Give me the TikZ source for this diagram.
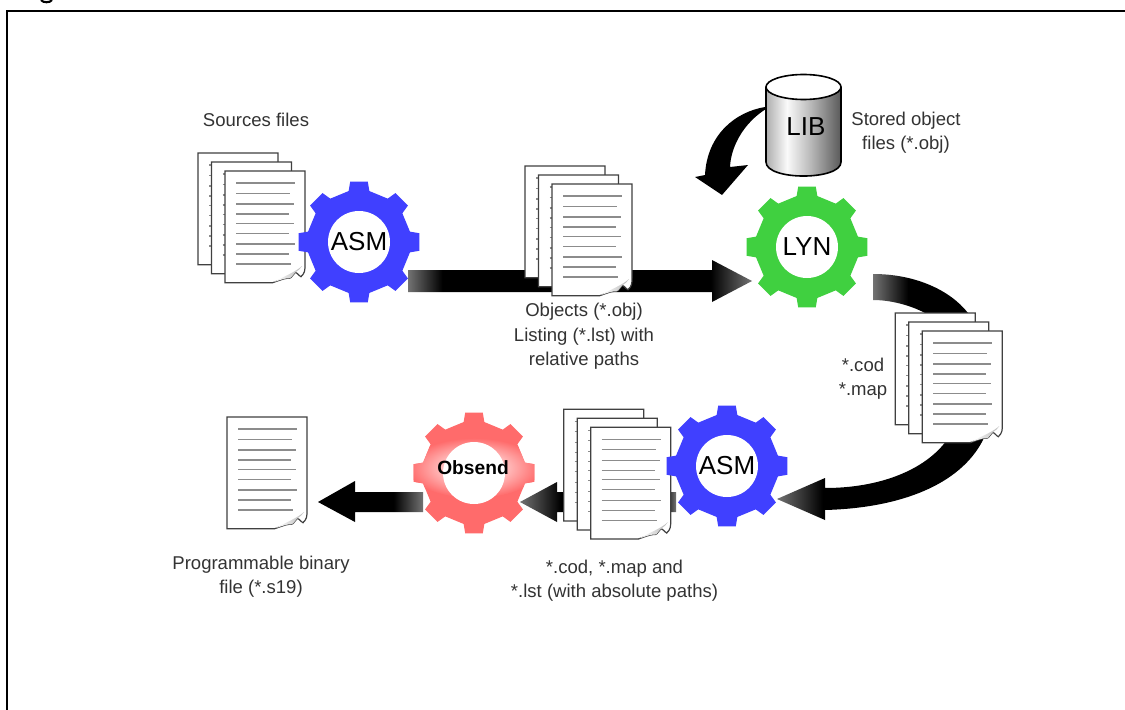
\documentclass[tikz,border=0pt]{standalone}
\usepackage{fontspec}
\setmainfont{Liberation Sans}
\usetikzlibrary{calc}
\definecolor{gearblue}{RGB}{64,64,255}
\definecolor{geargreen}{RGB}{64,208,64}
\definecolor{gearred}{RGB}{255,107,107}
\definecolor{glowred}{RGB}{255,190,190}
\definecolor{tipgrey}{gray}{0.45}
\definecolor{labelgrey}{gray}{0.2}
\definecolor{cylA}{gray}{0.68}
\definecolor{cylB}{gray}{0.98}
\definecolor{cylC}{gray}{0.72}
\definecolor{cylD}{gray}{0.35}
% the path's bounding box maps onto 25bp..75bp of a shading
\pgfdeclarehorizontalshading{arrowboth}{100bp}{color(0bp)=(tipgrey); color(25bp)=(tipgrey); color(30bp)=(black); color(69bp)=(black); color(75bp)=(tipgrey); color(100bp)=(tipgrey)}
\pgfdeclarehorizontalshading{arrowtailright}{100bp}{color(0bp)=(black); color(61bp)=(black); color(75bp)=(tipgrey); color(100bp)=(tipgrey)}
\pgfdeclarehorizontalshading{arrowmid}{100bp}{color(0bp)=(tipgrey); color(25bp)=(tipgrey); color(38bp)=(black); color(71bp)=(black); color(75bp)=(tipgrey); color(100bp)=(tipgrey)}
\pgfdeclarehorizontalshading{arrowtipleft}{100bp}{color(0bp)=(tipgrey); color(25bp)=(tipgrey); color(36bp)=(black); color(100bp)=(black)}
\pgfdeclarehorizontalshading{arrowtailleft}{100bp}{color(0bp)=(tipgrey); color(25bp)=(tipgrey); color(40bp)=(black); color(100bp)=(black)}
\pgfdeclarehorizontalshading{cylbody}{100bp}{color(0bp)=(cylA); color(25bp)=(cylA); color(39bp)=(cylB); color(55bp)=(cylC); color(75bp)=(cylD); color(100bp)=(cylD)}
\pgfdeclareradialshading{obsglow}{\pgfpointorigin}{color(0bp)=(glowred); color(12bp)=(glowred); color(25bp)=(gearred); color(50bp)=(gearred)}
\newcommand{\gearoutline}{(-11.5:52) \foreach \a in {0,45,...,315}{ -- (\a-11.5:52) -- (\a-8.3:61) -- (\a+8.3:61) -- (\a+11.5:52)} -- cycle}
% name, x, y, colour, text style, text
\newcommand{\cogwheel}[6]{%
  \begin{scope}[shift={(#2,#3)}]
    \fill[#4] \gearoutline;
    \fill[white] (0,0) circle[radius=31];
  \end{scope}
  \node[#5] (#1) at (#2,#3) {#6};}
\newcommand{\docpage}[2]{%
  \begin{scope}[shift={(#1,#2)}]
    \filldraw[fill=white,draw=black!75,line width=.9pt] (0,0) -- (80,0) -- (80,94)
      .. controls (80,99) and (80,102) .. (76,105.7)
      .. controls (74,105) and (72,101) .. (70,101.7)
      .. controls (68,103) and (67,107) .. (64.3,107.3)
      .. controls (61,107) and (58,108) .. (47.7,111.7) -- (0,111.7) -- cycle;
    \shade[left color=white,right color=black!28] (49,111) .. controls (58,108) and (61,107) .. (64.3,107.3)
      .. controls (67,107) and (68,103) .. (70,101.7) .. controls (73,99) and (76,98) .. (77,95)
      .. controls (72,100) and (60,105) .. cycle;
    \foreach \ly/\lx in {12/70,22.5/65,33/69,43/64,52.5/69,62.5/64,73/70,83/64,93/66}
      \draw[black!45,line width=.9pt] (11,\ly) -- (\lx,\ly);
  \end{scope}}
\newcommand{\docstack}[2]{%
  \docpage{#1}{#2}
  \docpage{#1+13.5}{#2+9}
  \docpage{#1+27}{#2+18}}
\tikzset{
  cap label/.style={text=labelgrey,font=\fontsize{13.9pt}{18.3pt}\selectfont,align=center,inner sep=0pt},
  gear label/.style={text=black,font=\fontsize{19.5pt}{22pt}\selectfont,inner sep=0pt},
  gear bold label/.style={text=black,font=\fontsize{14.4pt}{18pt}\selectfont\bfseries,inner sep=0pt},
}
\begin{document}
\begin{tikzpicture}[x=0.75pt,y=-0.75pt]
\useasboundingbox (0,0) rectangle (1125,710);
\fill[white] (0,0) rectangle (1125,710);
% frame and clipped title remnant
\draw[black,line width=1.5pt] (7,710) -- (7,11) -- (1125,11);
\draw[black,line width=1.6pt] (41,0) .. controls (43,3) and (50,3) .. (52,0);

% anchor points of the block arrows
\coordinate (objtail) at (408,281);
\coordinate (objtip) at (752,281);
\coordinate (codtail) at (873,287);
\coordinate (codtip) at (777,499);
\coordinate (lsttail) at (676,502);
\coordinate (lsttip) at (520,502);
\coordinate (bintail) at (423,502);
\coordinate (bintip) at (318,502);
\coordinate (libtail) at (765,107);
\coordinate (libtip) at (722,195);

% arrows behind the documents
\shade[shading=arrowboth] ($(objtail)+(0,-11)$) -- ($(objtip)+(-40,-11)$) -- ($(objtip)+(-40,-21)$) -- (objtip)
  -- ($(objtip)+(-40,21)$) -- ($(objtip)+(-40,11)$) -- ($(objtail)+(0,11)$) -- cycle;
\shade[shading=arrowtailleft] ($(codtail)+(0,-13)$) .. controls (915,274) and (950,290) .. (968,313)
  -- (990,350) -- (930,350) -- (925,313) .. controls (910,305) and (890,300) .. ($(codtail)+(0,13)$) -- cycle;
\shade[shading=arrowtipleft] (985,425) -- (983,440) .. controls (960,485) and (900,508) .. (825,510)
  -- (825,520) -- (codtip) -- (825,478) -- (825,488) .. controls (880,488) and (925,470) .. (947,440) -- (960,425) -- cycle;
\shade[shading=arrowmid] ($(lsttail)+(0,-10)$) -- ($(lsttip)+(37,-10)$) -- ($(lsttip)+(37,-20)$) -- (lsttip)
  -- ($(lsttip)+(37,20)$) -- ($(lsttip)+(37,10)$) -- ($(lsttail)+(0,10)$) -- cycle;
\shade[shading=arrowtailright] ($(bintail)+(0,-10)$) -- ($(bintip)+(37,-10)$) -- ($(bintip)+(37,-21)$) -- (bintip)
  -- ($(bintip)+(37,20)$) -- ($(bintip)+(37,10)$) -- ($(bintail)+(0,10)$) -- cycle;
\fill[black] (libtail) .. controls (735,112) and (707,135) .. (705,175) -- (695,177) -- (libtip) -- (748,165)
  -- (730,167) .. controls (731,145) and (745,122) .. (766,109) -- cycle;

% documents
\docstack{198}{153}
\docstack{525}{166}
\docstack{895.3}{313}
\docstack{563.7}{409.3}
\docpage{227}{417}

% library cylinder
\shade[shading=cylbody] (766,87) -- (766,162) .. controls (766,180.7) and (841,180.7) .. (841,162) -- (841,87) -- cycle;
\draw[black,line width=1.2pt] (766,87) -- (766,162) .. controls (766,180.7) and (841,180.7) .. (841,162) -- (841,87);
\filldraw[fill=white,draw=black,line width=1.2pt] (803.5,87) ellipse [x radius=37.5,y radius=12.5];
\node[gear label] (lib) at (806,127) {LIB};

% gears
\cogwheel{asmA}{359}{242}{gearblue}{gear label}{ASM}
\cogwheel{lyn}{807}{247}{geargreen}{gear label}{LYN}
\cogwheel{asmB}{727}{466}{gearblue}{gear label}{ASM}
\begin{scope}[shift={(474,473)}]
  \fill[gearred] \gearoutline;
  \clip \gearoutline;
  \shade[shading=obsglow] (0,-5) ellipse [x radius=66,y radius=30];
  \fill[white] (0,0) circle[radius=31];
\end{scope}
\node[gear bold label] (obsend) at (473,468) {Obsend};

% captions
\node[cap label] (sources) at (256,120) {Sources files};
\node[cap label] (stored) at (906,132.5) {Stored object\\files (*.obj)};
\node[cap label] (objects) at (584,336.5) {Objects (*.obj)\\Listing (*.lst) with\\relative paths};
\node[cap label] (codmap) at (863,378.5) {*.cod\\*.map};
\node[cap label] (abspaths) at (614.5,580.5) {*.cod, *.map and\\*.lst (with absolute paths)};
\node[cap label] (binary) at (261,576.5) {Programmable binary\\file (*.s19)};
\end{tikzpicture}
\end{document}
